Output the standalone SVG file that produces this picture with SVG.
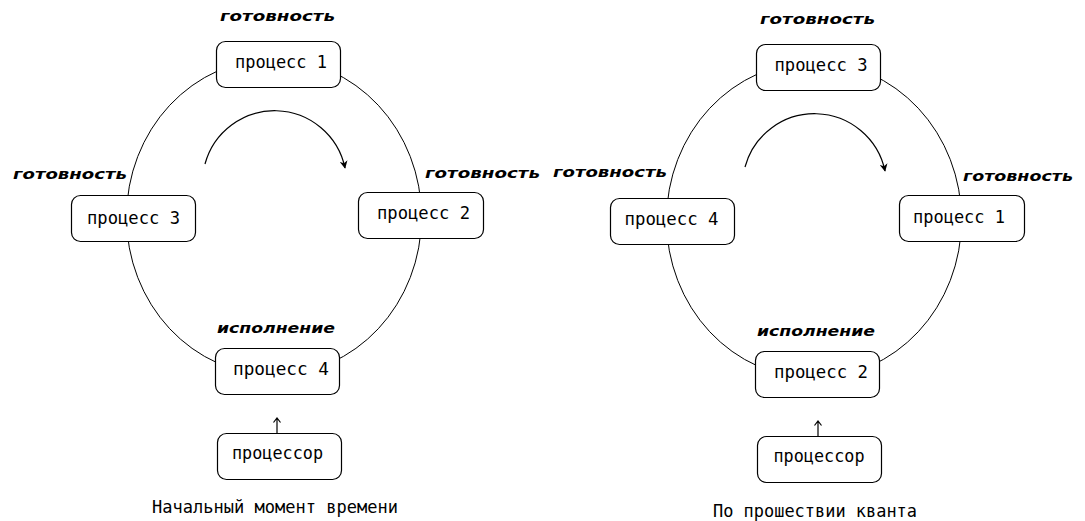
<svg xmlns="http://www.w3.org/2000/svg" width="1085" height="521" viewBox="0 0 1085 521">
  <style>
    .ring { fill: none; stroke: #000; stroke-width: 1; }
    .box { fill: #fff; stroke: #000; stroke-width: 1.2; }
    .txt { font-family: "DejaVu Sans Mono", "Liberation Mono", monospace; font-size: 17px; fill: #000; text-anchor: middle; }
    .cap { font-family: "DejaVu Sans Mono", "Liberation Mono", monospace; font-size: 17px; fill: #000; }
    .lbl { font-family: "DejaVu Sans", "Liberation Sans", sans-serif; font-size: 14px; font-weight: bold; font-style: italic; fill: #000; text-anchor: middle; }
    .arc { fill: none; stroke: #000; stroke-width: 1.2; }
    .up { fill: none; stroke: #000; stroke-width: 1.2; }
  </style>
  <defs>
    <marker id="turn" viewBox="0 0 10 10" refX="9" refY="5" markerWidth="8" markerHeight="8" markerUnits="userSpaceOnUse" orient="auto">
      <path d="M0,0 L10,5 L0,10 L3,5 Z" fill="#000"/>
    </marker>
  </defs>

  <!-- ring of states and rotation arrows -->
  <g id="connectors">
    <ellipse class="ring" cx="274" cy="217" rx="147.5" ry="158"/>
    <path class="arc" d="M205,164 A72,72 0 0 1 345,168" marker-end="url(#turn)"/>
    <path class="up" d="M277,433 V418 M273.5,422.5 L277,418 L280.5,422.5"/>

    <ellipse class="ring" cx="814" cy="220" rx="147.5" ry="158"/>
    <path class="arc" d="M745,167 A72,72 0 0 1 885,171" marker-end="url(#turn)"/>
    <path class="up" d="M818,436 V421 M814.5,425.5 L818,421 L821.5,425.5"/>
  </g>

  <!-- initial moment -->
  <g id="a-p1">
    <rect class="box" x="216.5" y="41.5" width="124" height="46" rx="9"/>
    <text class="txt" x="281" y="68" textLength="92" lengthAdjust="spacingAndGlyphs">процесс 1</text>
    <text class="lbl" x="277.5" y="21" textLength="115" lengthAdjust="spacingAndGlyphs">готовность</text>
  </g>
  <g id="a-p2">
    <rect class="box" x="358.5" y="192.5" width="125" height="46" rx="9"/>
    <text class="txt" x="423.5" y="219" textLength="93" lengthAdjust="spacingAndGlyphs">процесс 2</text>
    <text class="lbl" x="482.5" y="178" textLength="115" lengthAdjust="spacingAndGlyphs">готовность</text>
  </g>
  <g id="a-p3">
    <rect class="box" x="71.5" y="195.5" width="124" height="46" rx="9"/>
    <text class="txt" x="133.5" y="224" textLength="93" lengthAdjust="spacingAndGlyphs">процесс 3</text>
    <text class="lbl" x="70" y="179" textLength="114" lengthAdjust="spacingAndGlyphs">готовность</text>
  </g>
  <g id="a-p4">
    <rect class="box" x="215.5" y="348.5" width="124" height="46" rx="9"/>
    <text class="txt" x="281" y="375" textLength="96" lengthAdjust="spacingAndGlyphs">процесс 4</text>
    <text class="lbl" x="276" y="333" textLength="118" lengthAdjust="spacingAndGlyphs">исполнение</text>
  </g>
  <g id="a-cpu">
    <rect class="box" x="217.5" y="433.5" width="124" height="46" rx="9"/>
    <text class="txt" x="277.5" y="459" textLength="91" lengthAdjust="spacingAndGlyphs">процессор</text>
  </g>
  <g id="a-caption">
    <text class="cap" x="152" y="513" textLength="246" lengthAdjust="spacingAndGlyphs">Начальный момент времени</text>
  </g>

  <!-- after one quantum -->
  <g id="b-p3">
    <rect class="box" x="756.5" y="44.5" width="124" height="46" rx="9"/>
    <text class="txt" x="821" y="71" textLength="93" lengthAdjust="spacingAndGlyphs">процесс 3</text>
    <text class="lbl" x="817.5" y="24" textLength="115" lengthAdjust="spacingAndGlyphs">готовность</text>
  </g>
  <g id="b-p1">
    <rect class="box" x="899.5" y="195.5" width="125" height="46" rx="9"/>
    <text class="txt" x="959" y="223" textLength="92" lengthAdjust="spacingAndGlyphs">процесс 1</text>
    <text class="lbl" x="1018" y="181" textLength="110" lengthAdjust="spacingAndGlyphs">готовность</text>
  </g>
  <g id="b-p4">
    <rect class="box" x="610.5" y="198.5" width="124" height="46" rx="9"/>
    <text class="txt" x="671.5" y="225" textLength="94" lengthAdjust="spacingAndGlyphs">процесс 4</text>
    <text class="lbl" x="610" y="177" textLength="114" lengthAdjust="spacingAndGlyphs">готовность</text>
  </g>
  <g id="b-p2">
    <rect class="box" x="755.5" y="351.5" width="124" height="46" rx="9"/>
    <text class="txt" x="821" y="378" textLength="94" lengthAdjust="spacingAndGlyphs">процесс 2</text>
    <text class="lbl" x="816" y="336" textLength="118" lengthAdjust="spacingAndGlyphs">исполнение</text>
  </g>
  <g id="b-cpu">
    <rect class="box" x="757.5" y="436.5" width="124" height="46" rx="9"/>
    <text class="txt" x="819" y="462" textLength="91" lengthAdjust="spacingAndGlyphs">процессор</text>
  </g>
  <g id="b-caption">
    <text class="cap" x="713" y="517" textLength="204" lengthAdjust="spacingAndGlyphs">По прошествии кванта</text>
  </g>
</svg>
